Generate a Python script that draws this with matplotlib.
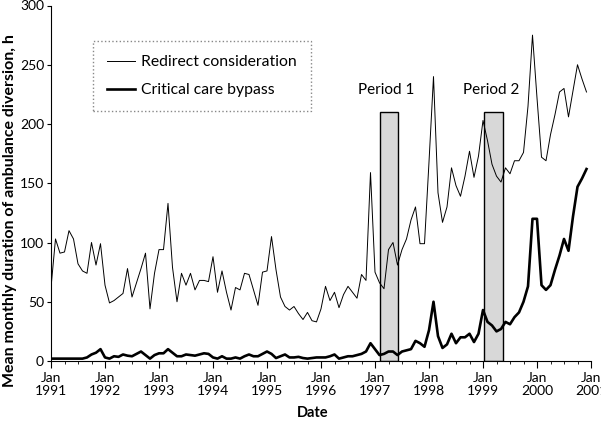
import numpy as np
import matplotlib.pyplot as plt
from matplotlib.patches import Rectangle
from matplotlib.ticker import MultipleLocator

plt.rcParams["font.family"] = ["Lato", "DejaVu Sans"]

# monthly values, Jan 1991 .. Dec 2000 (hours)
redirect = [62, 103, 91, 92, 110, 103, 82, 76, 74, 100, 81, 99,
            64, 49, 51, 54, 57, 78, 54, 66, 78, 91, 44, 74,
            94, 94, 133, 79, 50, 74, 64, 74, 60, 68, 68, 67,
            88, 58, 76, 58, 43, 62, 60, 74, 73, 60, 47, 75,
            76, 105, 77, 54, 46, 43, 46, 40, 35, 41, 34, 33,
            44, 63, 51, 58, 45, 56, 63, 58, 53, 73, 68, 159,
            75, 66, 61, 94, 100, 81, 94, 103, 119, 130, 99, 99,
            168, 240, 142, 117, 130, 163, 148, 139, 156, 177, 155, 173,
            203, 186, 166, 156, 151, 163, 158, 169, 169, 176, 215, 275,
            222, 172, 169, 191, 208, 227, 230, 206, 228, 250, 238, 227]
bypass = [2, 2, 2, 2, 2, 2, 2, 2, 3, 5.5, 7, 10,
          3, 2, 4, 3.5, 5.5, 4.5, 4, 6, 8, 5, 2, 5,
          6.5, 6.5, 10, 7, 4, 4, 5.5, 5, 4.5, 5.5, 6.5, 6,
          3, 2, 4, 2, 2, 3, 2, 4, 5.5, 4, 4, 6,
          8, 6, 2.5, 4, 5.5, 3, 3, 3.5, 2.5, 2, 2.5, 3,
          3, 3, 4, 5.5, 2, 3, 4, 4, 5, 6, 8, 15,
          10, 5, 6, 8, 8, 5, 8, 9, 10, 17, 15, 12,
          26, 50, 21, 11, 14, 23, 15, 20, 20, 23, 16, 23,
          43, 33, 30, 25, 27, 33, 31, 37, 41, 50, 63, 120,
          120, 64, 60, 64, 77, 89, 103, 93, 122, 147, 154, 162]
months = np.arange(len(redirect))

period_names = ["Period 1", "Period 2"]
period_start = [73, 96.3]
period_end = [77.2, 100.5]
period_top = 210

years = list(range(1991, 2002))
year_labels = [f"Jan\n{y}" for y in years]

fig = plt.figure(figsize=(6.01, 4.22), dpi=100)
ax = fig.add_axes([51 / 601, 1 - 361 / 422, 540 / 601, 355.5 / 422])

# shaded study periods
for name, x0, x1 in zip(period_names, period_start, period_end):
    ax.add_patch(Rectangle((x0, 0), x1 - x0, period_top, facecolor="#d8d8d8",
                           edgecolor="black", linewidth=1.0, zorder=1))
    ax.text((x0 + x1) / 2 - 0.6, 223, name, ha="center", va="bottom", fontsize=11)

ax.plot(months, redirect, color="black", lw=0.7, zorder=3, label="Redirect consideration")
ax.plot(months, bypass, color="black", lw=1.9, zorder=3, label="Critical care bypass")

ax.set_xlim(0, 120)
ax.set_ylim(0, 300)
ax.set_xticks(np.arange(0, 121, 12))
ax.set_xticklabels(year_labels, fontsize=10, linespacing=1.1)
ax.xaxis.set_minor_locator(MultipleLocator(3))
ax.set_yticks(np.arange(0, 301, 50))
ax.tick_params(axis="y", labelsize=10, length=3, width=0.8, pad=2)
ax.tick_params(axis="x", which="major", length=5, width=0.8, pad=3)
ax.tick_params(axis="x", which="minor", length=2, width=0.6)
for s in ["top", "right"]:
    ax.spines[s].set_visible(False)
ax.spines["left"].set_linewidth(0.8)
ax.spines["bottom"].set_linewidth(0.8)

fig.text(313 / 601, 1 - 413 / 422, "Date", ha="center", va="center",
         fontsize=10.5, fontweight="bold")
fig.text(10 / 601, 0.5, "Mean monthly duration of ambulance diversion, h",
         rotation=90, ha="center", va="center", fontsize=11.5, fontweight="bold")

leg = ax.legend(loc="upper left", bbox_to_anchor=(93 / 601, 1 - 41 / 422),
                bbox_transform=fig.transFigure, borderaxespad=0, fontsize=11.3,
                handlelength=1.8, handletextpad=0.35, labelspacing=0.9,
                borderpad=0.9, fancybox=False, framealpha=1)
frame = leg.get_frame()
frame.set_edgecolor("#888888")
frame.set_linestyle(":")
frame.set_linewidth(1.0)

plt.savefig("out.png", dpi=100)
